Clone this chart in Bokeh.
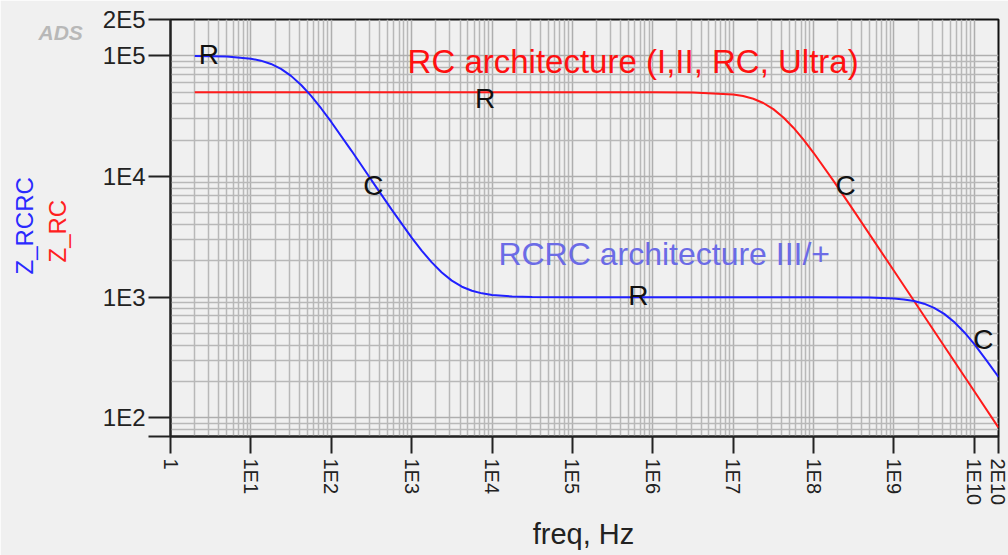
import math
from bokeh.plotting import figure
from bokeh.models import FixedTicker, Label, Range1d
from bokeh.core.properties import value
from bokeh.embed import file_html
from bokeh.resources import INLINE

# ---- data ----
blue_freq = [2, 5, 10, 13.3, 17.8, 23.7, 31.6, 42.2, 56.2, 75, 100, 178, 316, 562,
             1000, 1333, 1780, 2371, 3160, 4217, 5620, 7499, 1e4, 1.78e4, 3.16e4,
             1e5, 1e6, 1e7, 1e8, 5e8, 1e9, 1.33e9, 1.78e9, 2.37e9, 3.16e9, 4.22e9,
             5.62e9, 7.5e9, 1e10, 1.41e10, 2e10]
blue_z = [99800, 98600, 94700, 91200, 85600, 78000, 68200, 57300, 46500, 36600,
          28300, 16400, 9340, 5340, 3110, 2430, 1940, 1600, 1370, 1220, 1130, 1075,
          1043, 1013, 1004, 1000, 1000, 1000, 1000, 994, 976, 958, 929, 883, 816,
          727, 622, 512, 408, 301, 218]

red_freq = [2, 1e2, 1e4, 1e6, 3.16e6, 1e7, 1.33e7, 1.78e7, 2.37e7, 3.16e7, 4.22e7,
            5.62e7, 7.5e7, 1e8, 1.78e8, 3.16e8, 1e9, 1e10, 2e10]
red_z = [50000, 50000, 50000, 50000, 49770, 47860, 46390, 44050, 40650, 36160,
         30860, 25370, 20190, 15720, 9150, 5210, 1655, 166, 83]

x_ticks = [1, 1e1, 1e2, 1e3, 1e4, 1e5, 1e6, 1e7, 1e8, 1e9, 1e10, 2e10]
x_tick_labels = ["1", "1E1", "1E2", "1E3", "1E4", "1E5", "1E6", "1E7", "1E8",
                 "1E9", "1E10", "2E10"]
y_ticks = [70, 1e2, 1e3, 1e4, 1e5, 2e5]
y_tick_labels = ["", "1E2", "1E3", "1E4", "1E5", "2E5"]

curve_label_text = ["R", "R", "C", "R", "C", "C"]
curve_label_freq = [3.0, 8200, 335, 6.6e5, 2.5e8, 1.3e10]
curve_label_z = [103500, 43900, 8380, 1026, 8380, 449]

x_minor = [float(m) * 10.0 ** k for k in range(0, 11) for m in range(2, 10)
           if float(m) * 10.0 ** k < 2e10]
y_minor = [float(m) * 10.0 ** k for k in range(1, 6) for m in range(2, 10)
           if 70 < float(m) * 10.0 ** k < 2e5]

FONT = "Liberation Sans"
BG = "#f0f0f0"

p = figure(width=1008, height=555, x_axis_type="log", y_axis_type="log",
           x_range=Range1d(1, 2e10), y_range=Range1d(70, 2e5),
           output_backend="svg", toolbar_location=None,
           min_border_left=170, min_border_right=10, min_border_top=19,
           min_border_bottom=119,
           background_fill_color=BG, border_fill_color=BG,
           outline_line_color="#111111", outline_line_width=2)

xt = FixedTicker(ticks=x_ticks, minor_ticks=x_minor)
yt = FixedTicker(ticks=y_ticks, minor_ticks=y_minor)

xa = p.xaxis[0]
xa.ticker = xt
xa.major_label_overrides = dict(zip(x_ticks, x_tick_labels))
xa.major_label_orientation = -math.pi / 2
xa.major_tick_out = 17
xa.major_tick_in = 0
xa.minor_tick_out = 0
xa.minor_tick_in = 0
xa.major_label_standoff = 5
xa.major_label_text_font = FONT
xa.major_label_text_font_size = "20px"
xa.major_label_text_color = "#222222"
xa.axis_line_width = 2
xa.axis_line_color = "#222222"
xa.major_tick_line_width = 2
xa.major_tick_line_color = "#222222"

ya = p.yaxis[0]
ya.ticker = yt
ya.major_label_overrides = dict(zip(y_ticks, y_tick_labels))
ya.major_tick_out = 22
ya.major_tick_in = 0
ya.minor_tick_out = 0
ya.minor_tick_in = 0
ya.major_label_standoff = 3
ya.major_label_text_font = FONT
ya.major_label_text_font_size = "24px"
ya.major_label_text_color = "#222222"
ya.axis_line_width = 2
ya.axis_line_color = "#222222"
ya.major_tick_line_width = 2
ya.major_tick_line_color = "#222222"

for g, t in ((p.xgrid[0], xt), (p.ygrid[0], yt)):
    g.ticker = t
    g.grid_line_color = "#aeaeae"
    g.grid_line_width = 1.5
    g.minor_grid_line_color = "#b8b8b8"
    g.minor_grid_line_width = 1.5

p.line(red_freq, red_z, line_color="#ff1a1a", line_width=2)
p.line(blue_freq, blue_z, line_color="#2020ff", line_width=2)

p.text(x=curve_label_freq, y=curve_label_z, text=curve_label_text,
       text_font=value(FONT), text_font_size="28px", text_align="center",
       text_baseline="alphabetic", text_color="#111111")

p.add_layout(Label(x=890, y=89100, text="RC architecture (I,II, RC, Ultra)",
                   text_color="#ff1010", text_font=FONT, text_font_size="33px",
                   text_align="left", text_baseline="alphabetic"))
p.add_layout(Label(x=1.2e4, y=2275, text="RCRC architecture III/+",
                   text_color="#6b6be6", text_font=FONT, text_font_size="32px",
                   text_align="left", text_baseline="alphabetic"))

# texts outside the frame: placed in side panels so they are not clipped
p.add_layout(Label(x=38, y=32, x_units="canvas", y_units="canvas", text="ADS",
                   text_font=FONT, text_font_style="bold italic",
                   text_font_size="21px", text_color="#b8b8b8",
                   text_align="left", text_baseline="alphabetic"), "left")
p.add_layout(Label(x=24, y=274, x_units="canvas", y_units="canvas",
                   angle=math.pi / 2, text="Z_RCRC", text_color="#2a2aff",
                   text_font=FONT, text_font_size="24px",
                   text_align="left", text_baseline="alphabetic"), "left")
p.add_layout(Label(x=57, y=262, x_units="canvas", y_units="canvas",
                   angle=math.pi / 2, text="Z_RC", text_color="#ff2020",
                   text_font=FONT, text_font_size="24px",
                   text_align="left", text_baseline="alphabetic"), "left")
p.add_layout(Label(x=583, y=533, x_units="canvas", y_units="canvas",
                   text="freq, Hz", text_color="#222222",
                   text_font=FONT, text_font_size="29px",
                   text_align="center", text_baseline="alphabetic"), "below")

open("out.html", "w").write(file_html(p, INLINE))
